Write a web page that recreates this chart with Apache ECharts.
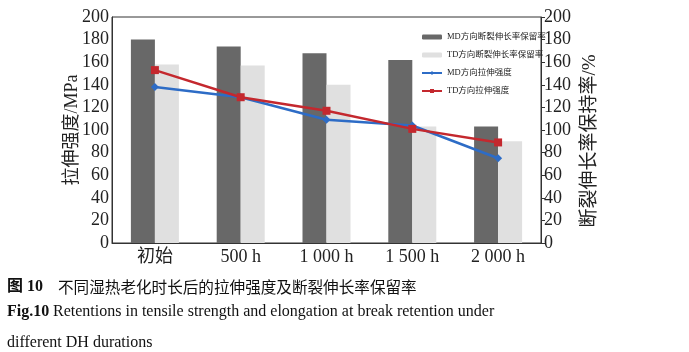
<!DOCTYPE html>
<html>
<head>
<meta charset="utf-8">
<script src="https://cdn.jsdelivr.net/npm/echarts@6/dist/echarts.min.js"></script>
<style>
  html, body { margin: 0; padding: 0; background: #fff; }
  #chart { width: 689px; height: 352px; }
</style>
</head>
<body>
<div id="chart"></div>
<script>
// 老化时长
const categories = ['初始', '500 h', '1 000 h', '1 500 h', '2 000 h'];
// 断裂伸长率保留率 (%)
const mdRetention = [180, 174, 168, 162, 103];
const tdRetention = [158, 157, 140, 103, 90];
// 拉伸强度 (MPa)
const mdStrength = [138, 129, 109, 104, 75];
const tdStrength = [153, 129, 117, 101, 89];

const serif = "'Liberation Serif', 'Times New Roman', 'Noto Sans CJK SC', serif";
const axisColor = '#333';
const textColor = '#222';

const mychart = echarts.init(document.getElementById('chart'));
const option = {
    animation: false,
    backgroundColor: '#fff',
    textStyle: { fontFamily: serif, color: textColor },
    grid: {
        left: 112, right: 148, top: 17, bottom: 109,
        show: true, borderColor: axisColor, borderWidth: 1,
        containLabel: false
    },
    legend: {
        orient: 'vertical',
        left: 416,
        top: 27,
        itemWidth: 20,
        itemHeight: 5,
        itemGap: 8,
        textStyle: { fontFamily: serif, fontSize: 8.5, color: textColor, lineHeight: 10 },
        data: ['MD方向断裂伸长率保留率', 'TD方向断裂伸长率保留率', 'MD方向拉伸强度', 'TD方向拉伸强度']
    },
    xAxis: {
        type: 'category',
        data: categories,
        axisLine: { lineStyle: { color: axisColor } },
        axisTick: { show: false },
        axisLabel: { fontFamily: serif, fontSize: 18, color: textColor, margin: 5 }
    },
    yAxis: [
        {
            type: 'value',
            min: 0, max: 200, interval: 20,
            name: '拉伸强度/MPa',
            nameLocation: 'middle',
            nameRotate: 90,
            nameGap: 31,
            nameMoveOverlap: false,
            nameTextStyle: { fontFamily: serif, fontSize: 18, color: textColor },
            splitLine: { show: false },
            axisLine: { show: true, lineStyle: { color: axisColor } },
            axisTick: { show: false },
            axisLabel: { fontFamily: serif, fontSize: 18, color: textColor, margin: 3 }
        },
        {
            type: 'value',
            position: 'right',
            min: 0, max: 200, interval: 20,
            name: '断裂伸长率保持率/%',
            nameLocation: 'middle',
            nameRotate: 90,
            nameGap: 40,
            nameMoveOverlap: false,
            nameTextStyle: { fontFamily: serif, fontSize: 19, color: textColor, padding: [0, 22, 0, 0] },
            splitLine: { show: false },
            axisLine: { show: true, lineStyle: { color: axisColor } },
            axisTick: { show: true, length: 4, lineStyle: { color: axisColor } },
            axisLabel: { fontFamily: serif, fontSize: 18, color: textColor, margin: 3 }
        }
    ],
    series: [
        {
            name: 'MD方向断裂伸长率保留率',
            type: 'bar',
            yAxisIndex: 1,
            barWidth: 24,
            barGap: '0%',
            itemStyle: { color: '#686868' },
            data: mdRetention
        },
        {
            name: 'TD方向断裂伸长率保留率',
            type: 'bar',
            yAxisIndex: 1,
            barWidth: 24,
            barGap: '0%',
            itemStyle: { color: '#e0e0e0' },
            data: tdRetention
        },
        {
            name: 'MD方向拉伸强度',
            type: 'line',
            yAxisIndex: 0,
            symbol: 'diamond',
            symbolSize: 8,
            lineStyle: { color: '#2d6cc6', width: 2.5 },
            itemStyle: { color: '#2d6cc6' },
            z: 5,
            data: mdStrength
        },
        {
            name: 'TD方向拉伸强度',
            type: 'line',
            yAxisIndex: 0,
            symbol: 'rect',
            symbolSize: 8,
            lineStyle: { color: '#c4282e', width: 2.5 },
            itemStyle: { color: '#c4282e' },
            z: 6,
            data: tdStrength
        }
    ],
    graphic: [
        {
            type: 'text', left: 7, top: 279,
            style: { text: '图 10', font: "bold 16px " + serif, fill: '#111' }
        },
        {
            type: 'text', left: 58, top: 279,
            style: { text: '不同湿热老化时长后的拉伸强度及断裂伸长率保留率', font: "15.6px 'Noto Sans CJK SC', serif", fill: '#111' }
        },
        {
            type: 'text', left: 7, top: 304,
            style: { text: 'Fig.10', font: "bold 16px " + serif, fill: '#111' }
        },
        {
            type: 'text', left: 53, top: 304,
            style: { text: 'Retentions in tensile strength and elongation at break retention under', font: "16px " + serif, fill: '#111' }
        },
        {
            type: 'text', left: 7, top: 335,
            style: { text: 'different DH durations', font: "16px " + serif, fill: '#111' }
        }
    ]
};
mychart.setOption(option, true);
</script>
</body>
</html>
